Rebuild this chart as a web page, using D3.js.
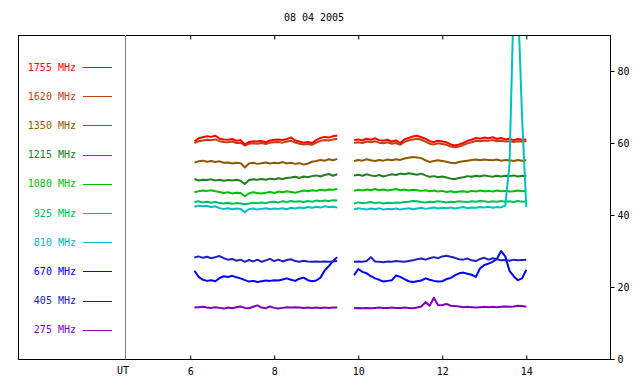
<!DOCTYPE html>
<html>
<head>
<meta charset="utf-8">
<script src="https://cdnjs.cloudflare.com/ajax/libs/d3/7.8.5/d3.min.js"></script>
<style>
body { margin:0; background:#fff; }
text { font-family:"DejaVu Sans Mono", monospace; font-size:10px; }
</style>
</head>
<body>
<div id="chart"></div>
<script>
// chart data (two recording windows, 0.1 h steps)
var title = "08 04 2005";
var freqs = ["1755", "1620", "1350", "1215", "1080", "925", "810", "670", "405", "275"];
var colors = ["#ff0000", "#c04010", "#8b5a00", "#208020", "#00c000", "#00c060", "#00c0c0", "#0000ff", "#2020c0", "#8000c0"];
var xTicks = [6, 8, 10, 12, 14];
var yTicks = [0, 20, 40, 60, 80];

var times1 = d3.range(6.1, 9.55, 0.1);
var times2 = d3.range(9.9, 14.05, 0.1);

// window 1: 6.1 .. 9.5 UT
var seg1 = {
"1755": [60.5,61.3,61.6,61.9,61.7,62.0,61.2,61.0,60.9,61.1,60.6,60.8,59.6,60.3,60.5,60.4,60.6,60.2,60.7,60.9,61.0,60.8,61.1,61.5,60.7,60.4,60.1,60.3,60.0,60.8,61.4,61.7,61.5,61.9,62.1],
"1620": [60.0,60.5,60.7,60.9,60.8,61.0,60.5,60.3,60.2,60.4,60.0,60.1,59.3,59.8,59.9,59.8,60.0,59.7,60.1,60.2,60.3,60.1,60.4,60.6,60.1,59.8,59.6,59.7,59.5,60.1,60.6,60.8,60.7,61.0,61.2],
"1350": [54.6,54.9,55.1,54.8,55.0,54.7,54.9,54.5,54.6,54.3,54.5,54.4,53.2,54.3,54.5,54.2,54.4,54.6,54.3,54.5,54.4,54.7,54.3,54.5,54.2,54.4,54.0,54.3,54.8,55.0,55.3,55.1,55.5,55.2,55.6],
"1215": [50.0,49.6,49.8,49.7,49.9,49.6,49.8,49.5,49.7,49.6,49.8,49.5,48.6,49.7,49.9,49.8,50.0,49.8,50.1,49.9,50.2,50.0,50.3,50.4,50.6,50.3,50.7,50.5,50.8,51.0,50.7,51.1,51.4,50.9,51.3],
"1080": [46.3,46.6,46.8,46.7,46.9,46.6,46.4,46.1,46.3,46.0,46.2,46.1,45.2,46.0,46.3,46.1,46.0,46.2,46.4,46.1,46.5,46.3,46.6,46.4,46.2,46.5,46.8,46.6,46.9,46.7,47.0,46.8,47.1,47.0,47.2],
"925":  [43.6,43.8,43.5,43.7,43.4,43.6,43.3,43.2,43.4,43.1,43.3,43.2,43.0,43.2,43.4,43.3,43.5,43.3,43.6,43.7,43.5,43.8,43.6,43.9,43.7,43.8,43.6,43.9,43.7,44.0,43.8,44.0,43.9,44.1,44.0],
"810":  [42.3,42.6,42.4,42.5,42.2,42.4,41.9,41.7,41.9,41.6,41.8,41.7,40.8,41.6,41.8,41.5,41.7,41.9,41.6,41.8,41.7,41.9,41.6,42.0,41.8,42.1,41.9,42.2,42.0,42.3,42.1,42.4,42.2,42.3,42.1],
"670":  [24.5,22.8,22.0,21.7,21.9,21.6,22.5,23.0,22.8,23.1,22.7,22.4,21.9,21.5,21.7,21.4,21.6,21.8,21.7,21.9,21.8,22.1,22.4,22.0,21.7,22.3,22.6,21.9,21.6,21.8,22.6,24.6,25.8,27.2,28.3],
"405":  [28.2,28.5,28.1,28.4,28.0,28.3,28.6,28.0,27.6,27.8,27.3,27.6,27.0,27.5,27.1,27.6,27.0,27.4,27.8,27.2,27.6,27.1,27.5,27.7,27.2,27.0,27.3,27.1,27.0,27.1,27.0,27.1,27.0,27.1,27.2],
"275":  [14.3,14.4,14.5,14.3,14.2,14.4,14.2,14.0,14.3,14.1,14.4,14.6,14.2,14.1,14.5,14.9,14.3,14.1,14.6,14.2,14.0,14.2,14.4,14.3,14.4,14.3,14.2,14.3,14.2,14.3,14.2,14.3,14.2,14.3,14.3]
};

// window 2: 9.9 .. 14.0 UT
var seg2 = {
"1755": [60.8,61.0,60.7,61.2,60.9,61.3,60.8,60.6,60.9,60.4,60.7,60.0,61.0,61.4,61.8,62.0,61.6,61.2,60.5,60.3,60.6,60.4,60.2,59.6,59.3,59.6,60.0,60.6,60.9,61.4,61.2,61.5,61.3,61.6,61.1,61.4,61.0,61.2,60.8,61.1,60.9,61.0],
"1620": [60.1,60.2,60.0,60.4,60.2,60.5,60.1,59.9,60.2,59.8,60.0,59.5,60.3,60.7,61.0,61.2,60.9,60.4,59.8,59.6,59.9,59.7,59.5,59.0,58.8,59.0,59.4,59.9,60.2,60.6,60.5,60.7,60.6,60.8,60.5,60.6,60.4,60.5,60.3,60.5,60.4,60.5],
"1350": [55.0,55.3,55.1,55.5,55.2,55.0,55.3,55.1,55.4,55.2,55.5,55.3,55.7,55.9,56.1,56.0,55.8,55.2,54.7,55.0,55.2,55.0,54.8,54.5,54.4,54.7,54.9,55.1,55.3,55.4,55.2,55.4,55.3,55.2,55.4,55.1,55.3,55.2,55.0,55.3,55.1,55.2],
"1215": [51.0,51.2,50.9,51.3,51.0,50.8,51.1,50.7,51.0,51.3,51.1,51.5,51.3,51.6,51.4,51.2,51.5,51.0,50.6,50.8,50.5,50.7,50.4,50.1,50.0,50.3,50.5,50.8,50.6,50.9,50.7,51.0,50.8,50.6,50.9,50.7,50.9,50.8,51.0,50.7,50.9,50.8],
"1080": [46.7,47.0,46.8,47.1,46.9,47.2,46.9,47.1,46.8,47.0,47.2,46.9,47.1,46.8,47.0,46.9,46.7,46.9,46.6,46.8,46.5,46.7,46.4,46.6,46.3,46.5,46.6,46.4,46.7,46.5,46.8,46.6,46.7,46.5,46.8,46.6,46.7,46.5,46.6,46.8,46.6,46.7],
"925":  [43.2,43.5,43.3,43.4,43.6,43.3,43.5,43.2,43.4,43.3,43.5,43.4,43.6,43.7,43.9,43.8,43.6,43.5,43.7,43.6,43.8,43.7,43.5,43.7,43.6,43.8,43.7,43.6,43.8,43.7,43.9,43.8,43.6,43.8,43.7,43.9,43.7,43.8,43.6,43.9,43.7,43.8],
"810":  [41.6,41.9,41.7,41.5,41.8,41.6,41.9,41.5,41.7,41.6,41.8,41.5,41.7,41.9,41.6,41.8,42.0,41.7,41.9,42.1,41.8,42.0,41.9,42.1,41.8,42.0,42.2,41.9,42.1,42.0,42.2,42.1,42.3,42.0,42.2,42.1,42.6,54.0,100,100,67.0,42.2],
"670":  [23.3,25.0,24.2,23.8,23.0,22.4,22.0,21.5,21.7,21.9,23.2,22.8,22.2,21.6,21.4,21.6,21.8,22.4,22.0,21.7,21.5,21.6,22.2,22.5,23.2,23.8,24.0,23.7,23.4,22.8,25.2,26.1,26.5,27.0,27.8,30.0,28.5,24.5,23.0,21.9,22.4,24.8],
"405":  [27.0,27.1,27.0,27.2,28.3,27.1,27.0,26.9,27.1,27.0,27.2,27.1,27.0,27.2,27.4,27.7,27.9,27.6,28.0,28.3,28.0,28.5,28.7,28.4,28.1,27.7,27.6,27.9,27.4,27.2,27.8,28.1,27.6,28.0,27.7,27.4,27.5,27.3,27.6,27.4,27.5,27.6],
"275":  [14.1,14.2,14.1,14.2,14.1,14.2,14.3,14.2,14.2,14.3,14.2,14.2,14.3,14.2,14.1,14.3,14.6,15.8,14.8,17.0,14.9,15.0,15.3,14.8,14.7,14.6,14.4,14.5,14.4,14.3,14.4,14.5,14.4,14.5,14.4,14.5,14.6,14.5,14.6,14.8,14.7,14.5]
};

var w = 640, h = 384;
var padL = 18, padR = 610, padT = 35, padB = 359;
var legendX = 125;

var svg = d3.select("#chart")
  .append("svg")
  .attr("width", w)
  .attr("height", h);

var x = d3.scaleLinear().domain([6, 14]).range([190.2, 526.3]);
var y = d3.scaleLinear().domain([0, 90]).range([padB, padT]);

svg.append("clipPath").attr("id", "clip")
  .append("rect")
  .attr("x", padL).attr("y", padT)
  .attr("width", padR - padL).attr("height", padB - padT);

// title
svg.append("text")
  .attr("x", (padL + padR) / 2)
  .attr("y", 21)
  .attr("text-anchor", "middle")
  .text(title);

// data lines
var line = d3.line()
  .x(function(d){ return x(d[0]); })
  .y(function(d){ return y(d[1]); });

var plot = svg.append("g").attr("clip-path", "url(#clip)");

// 810 goes last so its burst sits on top
var order = [1, 0, 2, 3, 4, 5, 7, 8, 9, 6];
order.forEach(function(i){
  var f = freqs[i];
  [[times1, seg1[f]], [times2, seg2[f]]].forEach(function(s){
    var pts = d3.zip(s[0], s[1]);
    plot.append("path")
      .attr("d", line(pts))
      .attr("fill", "none")
      .attr("stroke", colors[i])
      .attr("stroke-width", 2)
      .attr("stroke-linejoin", "round");
  });
});

// frame + legend divider
svg.append("rect")
  .attr("x", padL + 0.5).attr("y", padT + 0.5)
  .attr("width", padR - padL).attr("height", padB - padT)
  .attr("fill", "none").attr("stroke", "#000");

svg.append("line")
  .attr("x1", legendX + 0.5).attr("x2", legendX + 0.5)
  .attr("y1", padT).attr("y2", padB)
  .attr("stroke", "#808080");

// legend
var leg = svg.append("g");
freqs.forEach(function(f, i){
  var ly = 67 + i * 29.2;
  leg.append("text")
    .attr("x", 76).attr("y", ly)
    .attr("dy", "0.35em")
    .attr("text-anchor", "end")
    .attr("fill", colors[i])
    .text(f + " MHz");
  leg.append("line")
    .attr("x1", 83).attr("x2", 112)
    .attr("y1", Math.round(ly) + 0.5).attr("y2", Math.round(ly) + 0.5)
    .attr("stroke", colors[i]);
});

// axes
var xAxis = svg.append("g")
  .attr("transform", "translate(0," + (padB + 0.5) + ")")
  .call(d3.axisBottom(x).tickValues(xTicks).tickSize(-4).tickPadding(8).tickFormat(d3.format("d")));
xAxis.select(".domain").remove();

var xTop = svg.append("g")
  .attr("transform", "translate(0," + (padT + 0.5) + ")")
  .call(d3.axisTop(x).tickValues(xTicks).tickSize(-4).tickFormat(""));
xTop.select(".domain").remove();

var yAxis = svg.append("g")
  .attr("transform", "translate(" + (padR + 0.5) + ",0)")
  .call(d3.axisRight(y).tickValues(yTicks).tickSize(4).tickPadding(3));
yAxis.select(".domain").remove();

svg.selectAll(".tick text")
  .style("font-family", "'DejaVu Sans Mono', monospace")
  .style("font-size", "10px");

svg.append("text")
  .attr("x", 123)
  .attr("y", padB + 8)
  .attr("dy", "0.71em")
  .attr("text-anchor", "middle")
  .text("UT");
</script>
</body>
</html>
